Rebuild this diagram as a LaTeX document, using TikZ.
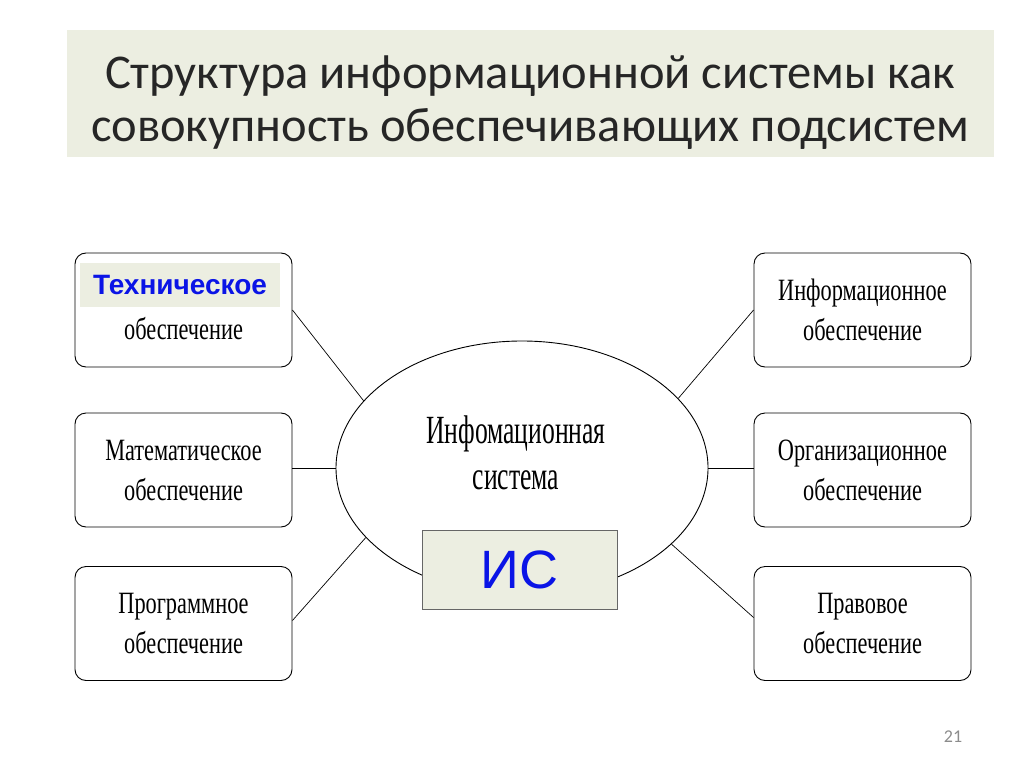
\documentclass[tikz,border=0pt]{standalone}
\usepackage{fontspec}
\setmainfont{Liberation Serif}
\newfontfamily\titlefont{Carlito}
\newfontfamily\boxfont[FakeStretch=0.72]{Liberation Serif}
\newfontfamily\ellfont[FakeStretch=0.64]{Liberation Serif}
\newfontfamily\arialfont{Liberation Sans}
\usetikzlibrary{shapes.geometric}
\definecolor{panel}{HTML}{ECEEE1}
\definecolor{isblue}{HTML}{0A14E6}
\tikzset{
  subbox/.style={draw, rounded corners=11pt, minimum width=217pt, minimum height=114pt,
    align=center, font=\boxfont\fontsize{31}{40}\selectfont, inner sep=0pt, line width=0.9pt},
  conn/.style={draw, line width=0.7pt},
}
\begin{document}
\begin{tikzpicture}[x=1pt,y=-1pt]
\useasboundingbox (0,0) rectangle (1024,767);
\fill[white] (0,0) rectangle (1024,767);
% title
\node[fill=panel, minimum width=927pt, minimum height=127pt, inner sep=0pt] (title) at (530.5,93.5) {};
\node[font=\titlefont\fontsize{48.5}{53}\selectfont, align=center, text=black!85] (ttext) at (530,103) {Структура информационной системы как\\совокупность обеспечивающих подсистем};
% ellipse
\node[draw, ellipse, minimum width=372pt, minimum height=254pt, inner sep=0pt, line width=0.9pt] (ell) at (522,468) {};
\node[font=\ellfont\fontsize{40}{46}\selectfont, align=center] (elltext) at (516,453) {Инфомационная\\система};
% IS box
\node[draw=black!60, fill=panel, minimum width=195pt, minimum height=79pt, inner sep=0pt, line width=0.9pt,
  font=\arialfont\fontsize{54}{56}\selectfont, text=isblue] (is) at (519.5,569.5) {ИС};
% left boxes
\node[subbox] (l1) at (183.5,310) {\vphantom{Т}\\обеспечение};
\node[subbox] (l2) at (183.5,470) {Математическое\\обеспечение};
\node[subbox] (l3) at (183.5,623.5) {Программное\\обеспечение};
% right boxes
\node[subbox] (r1) at (862.5,310) {Информационное\\обеспечение};
\node[subbox] (r2) at (862.5,470) {Организационное\\обеспечение};
\node[subbox] (r3) at (862.5,623.5) {Правовое\\обеспечение};
% overlay label
\node[fill=panel, minimum width=200pt, minimum height=44pt, inner sep=0pt,
  font=\arialfont\bfseries\fontsize{28}{30}\selectfont, text=isblue] (tech) at (180,285) {Техническое};
% connector end points
\coordinate (l2c) at ([yshift=2pt]l2.east);
\coordinate (r2c) at ([yshift=2pt]r2.west);
\coordinate (l3c) at ([yshift=3pt]l3.east);
\coordinate (r3c) at ([yshift=6pt]r3.west);
% connectors
\draw[conn] (l1.east) -- (ell.157);
\draw[conn] (l2c) -- (ell.west |- l2c);
\draw[conn] (l3c) -- (ell.204);
\draw[conn] (r1.west) -- (ell.24);
\draw[conn] (r2c) -- (ell.east |- r2c);
\draw[conn] (r3c) -- (ell.333);
% page number
\node[font=\titlefont\fontsize{18}{20}\selectfont, text=black!45] (pg) at (953,737) {21};
\end{tikzpicture}
\end{document}
